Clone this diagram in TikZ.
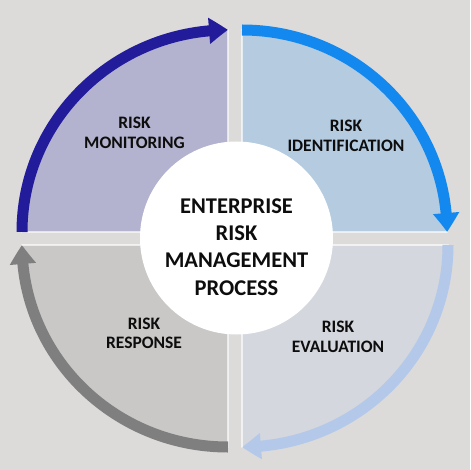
\documentclass[tikz,border=0pt]{standalone}
\usepackage{fontspec}
\setmainfont{Carlito}
\usetikzlibrary{arrows.meta,bending}
\definecolor{bgc}{HTML}{DCDBDA}
\definecolor{fTL}{HTML}{B3B2CF}
\definecolor{fTR}{HTML}{B4CBE0}
\definecolor{fBL}{HTML}{C9C8C7}
\definecolor{fBR}{HTML}{D4D7DD}
\definecolor{aTL}{HTML}{221C9B}
\definecolor{aTR}{HTML}{1389EF}
\definecolor{aBL}{HTML}{7F7F7F}
\definecolor{aBR}{HTML}{B4C9E9}
\definecolor{txt}{HTML}{0D0D0D}
\tikzset{
  sector/.style={draw=white, line width=1.3pt},
  cyclearrow/.style={line width=11pt, -{Triangle[length=19pt,width=25pt,bend]}},
  qlabel/.style={align=center, text=txt, font=\bfseries\fontsize{17.5}{19.5}\selectfont, inner sep=0pt},
  clabel/.style={align=center, text=txt, font=\bfseries\fontsize{22.5}{27.2}\selectfont, inner sep=0pt},
}
\begin{document}
\begin{tikzpicture}[x=1pt,y=-1pt]
\useasboundingbox (0,0) rectangle (470,470);
\fill[bgc] (0,0) rectangle (470,470);
% sectors
\filldraw[sector, fill=fTL] (228,232) -- ++(-206,0) arc[start angle=180, end angle=270, x radius=206, y radius=202] -- cycle;
\filldraw[sector, fill=fTR] (242,232) -- ++(0,-202) arc[start angle=270, end angle=360, x radius=205, y radius=202] -- cycle;
\filldraw[sector, fill=fBR] (242,245) -- ++(206,0) arc[start angle=0, end angle=90, x radius=206, y radius=202] -- cycle;
\filldraw[sector, fill=fBL] (228,245) -- ++(0,202) arc[start angle=90, end angle=180, x radius=206, y radius=202] -- cycle;
% arrows
\coordinate (tlS) at (22,232);
\coordinate (trS) at (242,30);
\coordinate (brS) at (448,245);
\coordinate (blS) at (228,447);
\draw[cyclearrow, aTL] (tlS) arc[start angle=180, end angle=270, x radius=206, y radius=202];
\draw[cyclearrow, aTR] (trS) arc[start angle=270, end angle=360, x radius=205, y radius=202];
\draw[cyclearrow, aBR] (brS) arc[start angle=0, end angle=90, x radius=206, y radius=202];
\draw[cyclearrow, aBL] (blS) arc[start angle=90, end angle=180, x radius=206, y radius=202];
% centre circle
\node[circle, fill=white, minimum size=193pt, inner sep=0pt] (hub) at (236.5,238) {};
\node[clabel] (erm) at (236.5,247) {ENTERPRISE\\RISK\\MANAGEMENT\\PROCESS};
% labels
\node[qlabel] (mon) at (134.5,133) {RISK\\MONITORING};
\node[qlabel] (ide) at (346,136) {RISK\\IDENTIFICATION};
\node[qlabel] (res) at (144,333.5) {RISK\\RESPONSE};
\node[qlabel] (eva) at (338,337) {RISK\\EVALUATION};
\end{tikzpicture}
\end{document}
